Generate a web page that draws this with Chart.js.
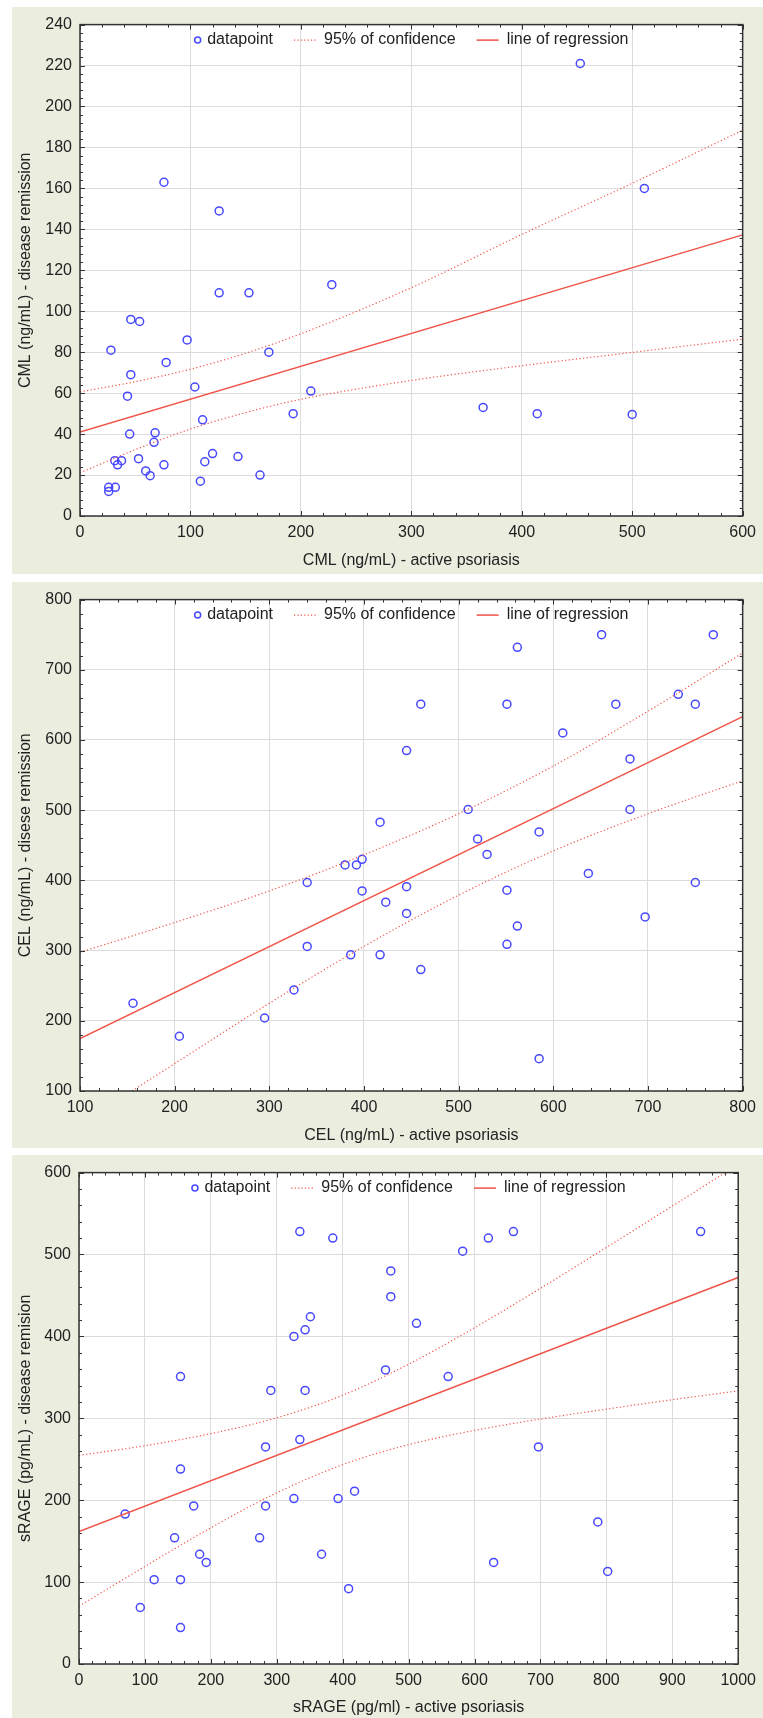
<!DOCTYPE html>
<html>
<head>
<meta charset="utf-8">
<script src="https://cdn.jsdelivr.net/npm/chart.js@4.4.1/dist/chart.umd.min.js"></script>
<style>
body { margin:0; background:#fff; width:763px; height:1718px; position:relative; overflow:hidden; }
.panel { position:absolute; left:12px; width:751px; background:#ebeedf; }
.panel canvas { display:block; }
</style>
</head>
<body>
<div class="panel" style="top:7px;height:567px"><canvas id="chart-cml" width="751" height="567"></canvas></div>
<div class="panel" style="top:582px;height:566px"><canvas id="chart-cel" width="751" height="566"></canvas></div>
<div class="panel" style="top:1155px;height:563px"><canvas id="chart-srage" width="751" height="563"></canvas></div>
<script>
// CML
var cmlActive = [453, 511, 76, 126, 126, 153, 228, 46, 54, 97, 28, 171, 78, 46, 104, 209, 43, 193, 365, 414, 500, 111, 45, 68, 67, 120, 143, 53, 31.5, 37.6, 34, 76, 113, 59.5, 63.5, 163, 109, 26, 32, 26];
var cmlRemission = [221, 160, 163, 149, 109, 109, 113, 96, 95, 86, 81, 80, 75, 69, 63, 61, 58.5, 50, 53, 50, 49.6, 47, 40, 40.6, 36, 30.5, 29, 28, 27, 27, 25, 25, 26.5, 22, 19.7, 20, 17, 14, 14, 12];
var cmlBandX = [0, 50, 100, 150, 200, 300, 400, 500, 600];
var cmlUpper = [60.6, 65.6, 71.7, 79.5, 89, 111.5, 137.5, 162.5, 188.4];
var cmlLower = [21.1, 32.4, 42.5, 50.5, 57, 66.2, 73.4, 79.9, 86.4];
var cmlRegX = [0, 600];
var cmlRegY = [41, 137.3];

// CEL
var celActive = [156, 205, 295, 326, 340, 340, 380, 392, 398, 398, 386, 417, 417, 423, 445, 445, 445, 460, 460, 510, 520, 530, 551, 551, 551, 562, 562, 585, 585, 610, 637, 651, 666, 681, 681, 697, 732, 750, 750, 769];
var celRemission = [225, 178, 204, 244, 397, 306, 422, 422, 430, 385, 294, 483, 294, 369, 585, 391, 353, 651, 273, 501, 459, 437, 651, 386, 309, 732, 335, 469, 146, 610, 410, 750, 651, 573, 501, 348, 665, 651, 397, 750];
var celUpperX = [100, 200, 300, 400, 500, 600, 700, 800];
var celUpper = [297.7, 340, 385, 436.5, 495, 563, 641, 724];
var celLowerX = [155, 200, 300, 400, 500, 600, 700, 800];
var celLower = [100, 139, 225, 306, 379, 442, 495, 542];
var celRegX = [100, 800];
var celRegY = [174.7, 633.3];

// sRAGE
var sragActive = [70, 93, 114, 145, 154, 154, 154, 154, 174, 183, 193, 274, 283, 283, 291, 326, 326, 335, 335, 343, 343, 351, 368, 385, 393, 409, 418, 465, 473, 473, 512, 560, 582, 621, 629, 659, 697, 787, 802, 943];
var sragRemission = [183, 69, 103, 154, 351, 238, 103, 44.5, 193, 134, 124, 154, 265, 193, 334, 400, 202, 528, 274, 408, 334, 424, 134, 520, 202, 92, 211, 359, 480, 448.5, 416, 351, 504, 520, 124, 528, 265, 173.5, 113, 528];
var sragBandX = [0, 100, 200, 300, 400, 500, 600, 700, 800, 900, 1000];
var sragUpper = [254.8, 266.5, 281.3, 300.6, 328.2, 366, 410.6, 458.7, 508.6, 559.1, 610];
var sragLower = [70.6, 119.1, 166.3, 209, 243.4, 267.8, 285.2, 299.1, 311.2, 322.7, 333.5];
var sragRegX = [0, 1000];
var sragRegY = [161.8, 471.9];

var legendLabels = ['datapoint', '95% of confidence', 'line of regression'];

var FONT = '"Liberation Sans", Arial, sans-serif';
var TEXT = '#222';
var POINT_COLOR = 'rgb(72,72,255)';
var LINE_COLOR = 'rgb(240,84,72)';

var pairs = function (xs, ys) {
    var out = [];
    for (var i = 0; i < xs.length; ++i) out.push({x: xs[i], y: ys[i]});
    return out;
};

// white plot area, box frame with inward major/minor ticks, legend inside the plot
var framePlugin = {
    id: 'frame',
    beforeDraw: function (chart) {
        var a = chart.chartArea, ctx = chart.ctx;
        ctx.save();
        ctx.fillStyle = '#fff';
        ctx.fillRect(a.left, a.top, a.right - a.left, a.bottom - a.top);
        ctx.restore();
    },
    afterDatasetsDraw: function (chart, args, opts) {
        var a = chart.chartArea, ctx = chart.ctx;
        var xs = chart.scales.x, ys = chart.scales.y;
        ctx.save();
        ctx.strokeStyle = '#333';
        ctx.lineWidth = 1;
        ctx.beginPath();
        var v, p, major, len;
        for (v = xs.min; v <= xs.max + 1e-6; v += opts.xStep / 5) {
            p = Math.round(xs.getPixelForValue(v)) + 0.5;
            major = Math.abs(v / opts.xStep - Math.round(v / opts.xStep)) < 1e-6;
            len = major ? 5 : 3;
            ctx.moveTo(p, a.bottom); ctx.lineTo(p, a.bottom - len);
            ctx.moveTo(p, a.top); ctx.lineTo(p, a.top + len);
        }
        for (v = ys.min; v <= ys.max + 1e-6; v += opts.yStep / 5) {
            p = Math.round(ys.getPixelForValue(v)) + 0.5;
            major = Math.abs(v / opts.yStep - Math.round(v / opts.yStep)) < 1e-6;
            len = major ? 5 : 3;
            ctx.moveTo(a.left, p); ctx.lineTo(a.left + len, p);
            ctx.moveTo(a.right, p); ctx.lineTo(a.right - len, p);
        }
        ctx.stroke();
        ctx.lineWidth = 1.5;
        ctx.strokeRect(a.left, a.top, a.right - a.left, a.bottom - a.top);
        ctx.restore();
    },
    afterDraw: function (chart) {
        var a = chart.chartArea, ctx = chart.ctx;
        ctx.save();
        ctx.font = '16px ' + FONT;
        ctx.textBaseline = 'middle';
        ctx.textAlign = 'left';
        var w0 = ctx.measureText(legendLabels[0]).width;
        var w1 = ctx.measureText(legendLabels[1]).width;
        var w2 = ctx.measureText(legendLabels[2]).width;
        var gap = 21;
        var total = 7 + 6 + w0 + gap + 22 + 8 + w1 + gap + 22 + 8 + w2;
        var x = (a.left + a.right) / 2 - total / 2;
        var y = a.top + 15;
        ctx.fillStyle = TEXT;

        ctx.strokeStyle = POINT_COLOR;
        ctx.lineWidth = 1.5;
        ctx.beginPath();
        ctx.arc(x + 3.5, y + 0.5, 3, 0, 2 * Math.PI);
        ctx.stroke();
        x += 13;
        ctx.fillText(legendLabels[0], x, y);
        x += w0 + gap;

        ctx.strokeStyle = LINE_COLOR;
        ctx.lineWidth = 1.2;
        ctx.setLineDash([1.2, 2.2]);
        ctx.beginPath(); ctx.moveTo(x, y + 0.5); ctx.lineTo(x + 22, y + 0.5); ctx.stroke();
        x += 30;
        ctx.fillText(legendLabels[1], x, y);
        x += w1 + gap;

        ctx.setLineDash([]);
        ctx.lineWidth = 1.5;
        ctx.beginPath(); ctx.moveTo(x, y + 0.5); ctx.lineTo(x + 22, y + 0.5); ctx.stroke();
        x += 30;
        ctx.fillText(legendLabels[2], x, y);
        ctx.restore();
    }
};

var plainTick = function (value) {
    return String(value);
};

var makeChart = function (id, cfg) {
    var ctx = document.getElementById(id);
    var bandStyle = {
        type: 'line', showLine: true, pointRadius: 0, borderColor: LINE_COLOR, borderWidth: 1.2,
        borderDash: [1.2, 2.4], cubicInterpolationMode: 'monotone', fill: false
    };
    return new Chart(ctx, {
        type: 'scatter',
        data: {
            datasets: [
                Object.assign({data: cfg.upper}, bandStyle),
                Object.assign({data: cfg.lower}, bandStyle),
                {type: 'line', data: cfg.reg, showLine: true, pointRadius: 0, borderColor: LINE_COLOR, borderWidth: 1.5, fill: false},
                {data: cfg.points, pointRadius: 4, pointBorderWidth: 1.5, borderColor: POINT_COLOR, backgroundColor: 'rgba(0,0,0,0)', pointBorderColor: POINT_COLOR}
            ]
        },
        options: {
            responsive: false,
            animation: false,
            events: [],
            layout: {padding: {top: 17, right: cfg.padRight, bottom: 0, left: 0}},
            plugins: {
                legend: {display: false},
                tooltip: {enabled: false},
                frame: {xStep: cfg.xStep, yStep: cfg.yStep}
            },
            scales: {
                x: {
                    type: 'linear', min: cfg.xMin, max: cfg.xMax,
                    grid: {color: '#dcdcdc', lineWidth: 1, drawTicks: false},
                    border: {display: false},
                    ticks: {stepSize: cfg.xStep, padding: 7, color: TEXT, font: {family: FONT, size: 16}, maxRotation: 0, callback: plainTick},
                    title: {display: true, text: cfg.xTitle, color: TEXT, font: {family: FONT, size: 16}, padding: {top: 0, bottom: cfg.xTitlePad}},
                    afterFit: function (scale) { scale.height = cfg.xHeight; }
                },
                y: {
                    type: 'linear', min: cfg.yMin, max: cfg.yMax,
                    grid: {color: '#dcdcdc', lineWidth: 1, drawTicks: false},
                    border: {display: false},
                    ticks: {stepSize: cfg.yStep, padding: 8, color: TEXT, font: {family: FONT, size: 16}, callback: plainTick},
                    title: {display: true, text: cfg.yTitle, color: TEXT, font: {family: FONT, size: 16}, padding: {top: 4, bottom: 0}},
                    afterFit: function (scale) { scale.width = cfg.yWidth; }
                }
            }
        },
        plugins: [framePlugin]
    });
};

makeChart('chart-cml', {
    points: pairs(cmlActive, cmlRemission),
    upper: pairs(cmlBandX, cmlUpper), lower: pairs(cmlBandX, cmlLower), reg: pairs(cmlRegX, cmlRegY),
    xMin: 0, xMax: 600, xStep: 100, yMin: 0, yMax: 240, yStep: 20,
    xTitle: 'CML (ng/mL) - active psoriasis', yTitle: 'CML (ng/mL) - disease remission',
    xHeight: 58, yWidth: 68, padRight: 17, xTitlePad: 4
});
makeChart('chart-cel', {
    points: pairs(celActive, celRemission),
    upper: pairs(celUpperX, celUpper), lower: pairs(celLowerX, celLower), reg: pairs(celRegX, celRegY),
    xMin: 100, xMax: 800, xStep: 100, yMin: 100, yMax: 800, yStep: 100,
    xTitle: 'CEL (ng/mL) - active psoriasis', yTitle: 'CEL (ng/mL) - disese remission',
    xHeight: 57, yWidth: 68, padRight: 17, xTitlePad: 3
});
makeChart('chart-srage', {
    points: pairs(sragActive, sragRemission),
    upper: pairs(sragBandX, sragUpper), lower: pairs(sragBandX, sragLower), reg: pairs(sragRegX, sragRegY),
    xMin: 0, xMax: 1000, xStep: 100, yMin: 0, yMax: 600, yStep: 100,
    xTitle: 'sRAGE (pg/ml) - active psoriasis', yTitle: 'sRAGE (pg/mL) - disease remision',
    xHeight: 54, yWidth: 67, padRight: 22, xTitlePad: 1
});
</script>
</body>
</html>
